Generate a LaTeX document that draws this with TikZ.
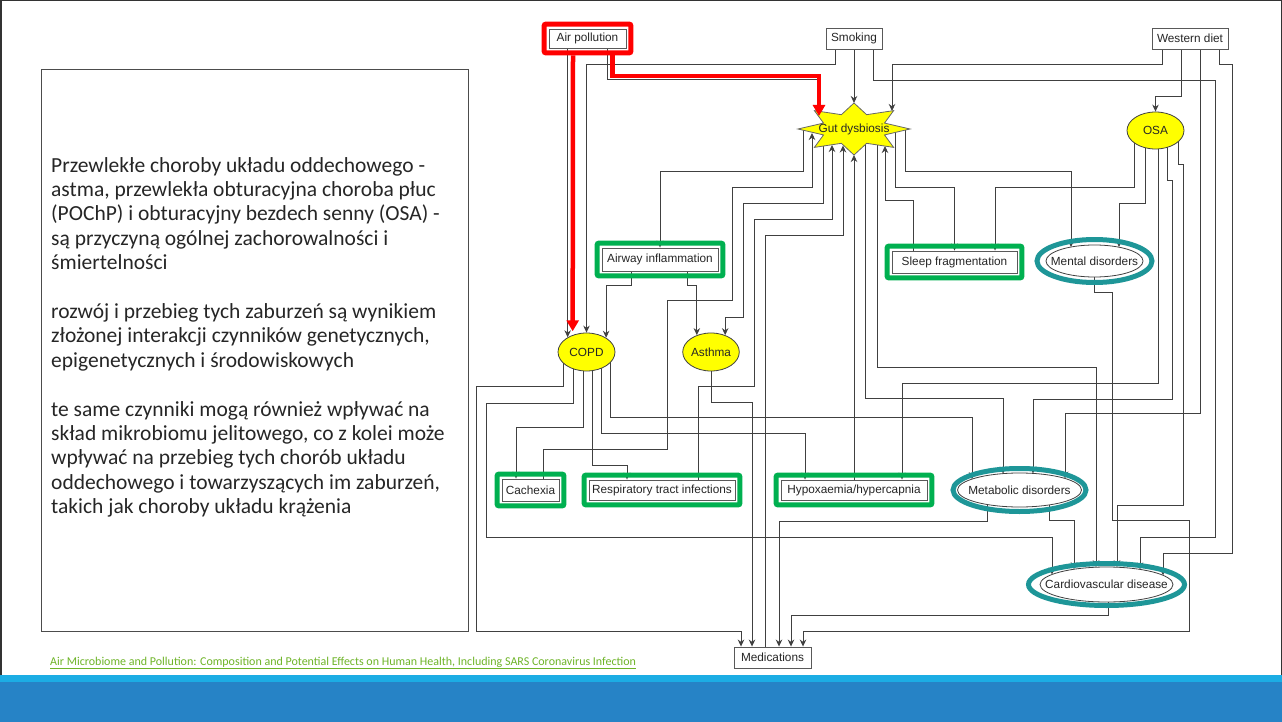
\documentclass[tikz,border=0pt]{standalone}
\usepackage{fontspec}
\setmainfont{Carlito}
\newfontfamily\diafont{Liberation Sans}
\usetikzlibrary{arrows.meta,positioning,shapes.geometric,calc,fit,backgrounds}
\definecolor{hlgreen}{RGB}{0,176,80}
\definecolor{hlteal}{RGB}{30,150,152}
\definecolor{hlred}{RGB}{255,0,0}
\definecolor{linkgreen}{RGB}{110,180,40}
\definecolor{bandlight}{RGB}{28,173,228}
\definecolor{banddark}{RGB}{38,131,198}
\definecolor{dyellow}{RGB}{255,255,0}
\tikzset{
  dia-box/.style={draw=black!65, fill=white, line width=0.9pt, inner sep=1pt, text=black!85,
    font=\diafont\fontsize{11.8}{13}\selectfont},
  dia-ell/.style={ellipse, draw=black!75, line width=0.8pt, inner sep=0pt, text=black!85,
    font=\diafont\fontsize{11.8}{13}\selectfont},
  dia-yellow/.style={dia-ell, fill=dyellow},
  dia-oval/.style={draw=black!75, fill=white, line width=0.8pt},
  dia-label/.style={inner sep=0pt, text=black!85, font=\diafont\fontsize{11.8}{13}\selectfont},
  dia-star/.style={draw=black!60, fill=dyellow, line width=0.8pt},
  dia-link/.style={draw=black!75, line width=0.9pt},
  dia-arrow/.style={dia-link, -{Stealth[length=7pt,width=6.5pt]}},
  hl-green/.style={draw=hlgreen, line width=5pt, rounded corners=2pt, inner sep=4.5pt},
  hl-red/.style={draw=hlred, line width=5pt, rounded corners=2pt, inner sep=4.5pt},
  hl-redline/.style={draw=hlred, line width=4.5pt, -{Triangle[length=11pt,width=12pt]}},
  hl-teal/.style={draw=hlteal, line width=5pt},
  intro-text/.style={align=left, inner sep=0pt, text=black!85, font=\fontsize{21.5}{24.4}\selectfont},
  src-link/.style={inner sep=0pt, text=linkgreen, font=\fontsize{12}{14}\selectfont}
}

\begin{document}
\begin{tikzpicture}[x=1pt, y=-1pt]
  \useasboundingbox (0,0) rectangle (1282,722);

  % Slide frame and band
  \draw[black!80, line width=1.5pt] (0.75,675) -- (0.75,0.75) -- (1281.25,0.75) -- (1281.25,675);
  \fill[bandlight] (0,675) rectangle (1282,682);
  \fill[banddark] (0,682) rectangle (1282,722);

  % Text box
  \node[draw=black!70, line width=0.8pt, minimum width=427pt, minimum height=562pt, anchor=north west] (introbox) at (41,69) {};
  \node[intro-text, anchor=north west] (intro) at (51,157) {Przewlekłe choroby układu oddechowego -\\
    astma, przewlekła obturacyjna choroba płuc\\
    (POChP) i obturacyjny bezdech senny (OSA) -\\
    są przyczyną ogólnej zachorowalności i\\
    śmiertelności\\[24.4pt]
    rozwój i przebieg tych zaburzeń są wynikiem\\
    złożonej interakcji czynników genetycznych,\\
    epigenetycznych i środowiskowych\\[24.4pt]
    te same czynniki mogą również wpływać na\\
    skład mikrobiomu jelitowego, co z kolei może\\
    wpływać na przebieg tych chorób układu\\
    oddechowego i towarzyszących im zaburzeń,\\
    takich jak choroby układu krążenia};
  \node[src-link, anchor=base west] (source) at (50,665) {\underline{Air Microbiome and Pollution: Composition and Potential Effects on Human Health, Including SARS Coronavirus Infection}};

  % Risk factors
  \node[dia-box, minimum width=77pt, minimum height=19pt] (ap) at (587.5,38.5) {Air pollution};
  \node[dia-box, minimum width=56pt, minimum height=21pt] (smk) at (854,38.5) {Smoking};
  \node[dia-box, minimum width=76pt, minimum height=21pt] (wd) at (1190,38.5) {Western diet};

  % Gut dysbiosis star
  \coordinate (gutc) at (854,129);
  \filldraw[dia-star, shift={(gutc)}] (0:56 and 26)
    \foreach \a in {0,45,...,315} { -- (\a+22.5:33 and 15.5) -- (\a+45:56 and 26) } -- cycle;
  \node[dia-label] (gut) at (gutc) {Gut dysbiosis};

  % Disorders
  \node[dia-yellow, minimum width=57pt, minimum height=37pt] (osa) at (1155.5,130.5) {OSA};
  \node[dia-box, minimum width=116pt, minimum height=23pt] (aw) at (660,259.5) {Airway inflammation};
  \node[dia-box, minimum width=125pt, minimum height=22pt] (sf) at (954.5,262) {Sleep fragmentation};
  \filldraw[dia-oval] (1094.5,261) ellipse (48.5 and 16);
  \node[dia-label] (md) at (1094.5,261) {Mental disorders};
  \node[dia-yellow, minimum width=57pt, minimum height=38pt] (copd) at (586.5,352) {COPD};
  \node[dia-yellow, minimum width=56pt, minimum height=38pt] (asth) at (711,352) {Asthma};
  \node[dia-box, minimum width=57pt, minimum height=22pt] (cx) at (530.5,490) {Cachexia};
  \node[dia-box, minimum width=146pt, minimum height=20pt] (rti) at (662,490) {Respiratory tract infections};
  \node[dia-box, minimum width=146pt, minimum height=20pt] (hyp) at (854,490) {Hypoxaemia/hypercapnia};
  \filldraw[dia-oval] (1019.5,490) ellipse (62 and 17);
  \node[dia-label] (metab) at (1019.5,490) {Metabolic disorders};
  \filldraw[dia-oval] (1106.5,584.5) ellipse (66.5 and 17.5);
  \node[dia-label] (cvd) at (1106.5,584.5) {Cardiovascular disease};
  \node[dia-box, minimum width=77pt, minimum height=21pt] (med) at (772.5,657.5) {Medications};

  \begin{pgfonlayer}{background}
    \fill[white] (0,0) rectangle (1282,675);
    % From risk factors
    \draw[dia-arrow] (ap.south -| copd.142) -- (copd.142);
    \draw[dia-arrow] ([xshift=-19pt]smk.south) |- (586.5,64) -- (copd.north);
    \draw[dia-arrow] ([xshift=19.5pt]ap.south) |- (817,79) -- ($(gut)+(-37,-17)$);
    \draw[dia-arrow] (smk.south) -- ($(gut)+(0,-26)$);
    \draw[dia-arrow] ([xshift=19pt]smk.south) |- (1215,80) -- (1215,537) -| ($(cvd)+(33.5,-15.1)$);
    \draw[dia-arrow] ([xshift=-28pt]wd.south) |- (892,64) -- ($(gut)+(38,-18)$);
    \draw[dia-arrow] ([xshift=-9pt]wd.south) |- (1155.5,96) -- (osa.north);
    \draw[dia-arrow] ([xshift=10pt]wd.south) -- (1200,413) -| ($(metab)+(45.5,-11.5)$);
    \draw[dia-arrow] ([xshift=29pt]wd.south) |- (1232,64) -- (1232,553) -| ($(cvd)+(56.5,-9.2)$);

    % From OSA
    \draw[dia-arrow] ($(osa)+(-21.5,0)$) |- (995,187) -- ($(sf.north)+(40.5,0)$);
    \draw[dia-arrow] ($(osa)+(-10.5,0)$) |- (1119,203) -- ($(md)+(24.5,-14)$);
    \draw[dia-arrow] ($(osa)+(2.5,0)$) |- (902,383) -- ($(hyp.north)+(48,0)$);
    \draw[dia-arrow] ($(osa)+(11.5,0)$) |- (1172,180) |- (1033,399) -- ($(metab)+(13.5,-16.6)$);
    \draw[dia-arrow] ($(osa)+(22.5,0)$) |- (1183,164) |- (1117,505) -- ($(cvd)+(10.5,-17.3)$);

    % Around gut dysbiosis
    \draw[dia-arrow] ($(gut)+(-51,0)$) |- (660,171) -- (aw.north);
    \draw[dia-arrow] ([xshift=12.5pt]cx.north) |- (667,449) |- (732,300) |- (812,187) -- ($(gut)+(-42,4)$);
    \draw[dia-arrow] ($(gut)+(-31,0)$) |- (743,203) -- (743,317) -| (asth.50);
    \draw[dia-arrow] ([xshift=36pt]rti.north) |- (754,386) |- (832,219) -- ($(gut)+(-22,16)$);
    \draw[dia-arrow] ([xshift=-7.5pt]med.north) |- (843,235) -- ($(gut)+(-11,16.5)$);
    \draw[dia-arrow] (hyp.north) -- ($(gut)+(0,26)$);
    \draw[dia-arrow] ($(gut)+(11,0)$) |- (1003,398) -- ($(metab)+(-16.5,-16.4)$);
    \draw[dia-arrow] ($(gut)+(23,0)$) |- (1096,367) -- ($(cvd)+(-10.5,-17.3)$);
    \draw[dia-arrow] ([xshift=-41.5pt]sf.north) |- (885,200) -- ($(gut)+(31,17)$);
    \draw[dia-arrow] ($(gut)+(41,0)$) |- (954.5,187) -- (sf.north);
    \draw[dia-arrow] ($(gut)+(51,0)$) |- (1071,171) -- ($(md)+(-23.5,-14)$);

    % Airway inflammation
    \draw[dia-arrow] ([xshift=-29pt]aw.south) -- (631,285) -| (copd.36);
    \draw[dia-arrow] ([xshift=27pt]aw.south) -- (687,285) -| (asth.130);

    % From COPD
    \draw[dia-arrow] ($(copd)+(-23.5,0)$) |- (476,386) |- (741,631) -- ($(med.north)+(-31.5,0)$);
    \draw[dia-arrow] ($(copd)+(-13.5,0)$) |- (486,403) |- (1052,537) -- ($(cvd)+(-54.5,-10)$);
    \draw[dia-arrow] ($(copd)+(-3.5,0)$) |- (516,427) -- ($(cx.north)+(-14.5,0)$);
    \draw[dia-arrow] ($(copd)+(5.5,0)$) |- (627,465) -- ($(rti.north)+(-35,0)$);
    \draw[dia-arrow] ($(copd)+(14.5,0)$) |- (805,433) -- ($(hyp.north)+(-49,0)$);
    \draw[dia-arrow] ($(copd)+(23.5,0)$) |- (972,417) -- ($(metab)+(-47.5,-10.9)$);

    % Towards medications and CVD
    \draw[dia-arrow] (asth) |- (752,402) -- ($(med.north)+(-20.5,0)$);
    \draw[dia-arrow] ($(metab)+(-32.5,0)$) |- (779,521) -- ($(med.north)+(6.5,0)$);
    \draw[dia-arrow] ($(metab)+(29.5,0)$) |- (1074,520) -- ($(cvd)+(-32.5,-15.3)$);
    \draw[dia-arrow] ($(cvd)+(1.5,0)$) |- (791,615) -- ($(med.north)+(18.5,0)$);
    \draw[dia-arrow] (md) |- (1112,292) |- (1189,520) |- (803,631) -- ($(med.north)+(30.5,0)$);
  \end{pgfonlayer}

  % Highlights
  \node[hl-red, fit=(ap)] (aphl) {};
  \node[hl-green, fit=(aw)] (awhl) {};
  \node[hl-green, fit=(sf)] (sfhl) {};
  \node[hl-green, fit=(cx)] (cxhl) {};
  \node[hl-green, fit=(rti)] (rtihl) {};
  \node[hl-green, fit=(hyp)] (hyphl) {};
  \draw[hl-teal] (md) ellipse (57.5 and 21.5);
  \draw[hl-teal] (metab) ellipse (66.5 and 21.5);
  \draw[hl-teal] (cvd) ellipse (78 and 21);
  \draw[hl-redline] ([xshift=-14.5pt]aphl.south) -- ($(copd.142)+(5,-6)$);
  \draw[hl-redline] ([xshift=25pt]aphl.south) |- (819,76) -- ($(gut)+(-35,-13)$);
\end{tikzpicture}
\end{document}
